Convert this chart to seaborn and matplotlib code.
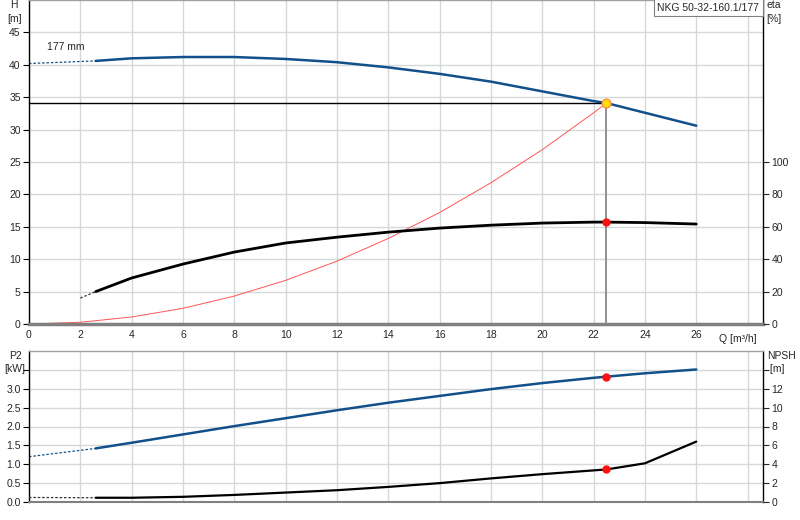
import matplotlib
matplotlib.use("Agg")
import matplotlib.pyplot as plt
import seaborn as sns
import pandas as pd
import numpy as np

# ---------------- data ----------------
q_ext = [0.0, 2.6]
h_ext = [40.2, 40.6]
q_h = [2.6, 4, 6, 8, 10, 12, 14, 16, 18, 20, 22, 22.5, 24, 26]
h_vals = [40.6, 41.0, 41.2, 41.2, 40.9, 40.4, 39.6, 38.6, 37.4, 35.9, 34.4, 34.1, 32.6, 30.6]

q_eta_ext = [2.0, 2.6]
eta_ext = [16.0, 20.0]
q_eta = [2.6, 4, 6, 8, 10, 12, 14, 16, 18, 20, 22, 22.5, 24, 26]
eta_vals = [20.0, 28.4, 37.0, 44.4, 50.0, 53.6, 56.7, 59.2, 61.0, 62.3, 62.9, 62.9, 62.6, 61.7]

q_sys = [0, 2, 4, 6, 8, 10, 12, 14, 16, 18, 20, 22, 22.5]
h_sys = [0.0, 0.27, 1.08, 2.42, 4.31, 6.74, 9.7, 13.2, 17.2, 21.8, 26.9, 32.6, 34.1]

q_p2_ext = [0.0, 2.6]
p2_ext = [1.20, 1.42]
q_p2 = [2.6, 4, 6, 8, 10, 12, 14, 16, 18, 20, 22, 22.5, 24, 26]
p2_vals = [1.42, 1.57, 1.79, 2.01, 2.22, 2.43, 2.63, 2.81, 2.99, 3.15, 3.29, 3.32, 3.41, 3.51]

q_npsh_ext = [0.0, 2.6]
npsh_ext = [0.48, 0.45]
q_npsh = [2.6, 4, 6, 8, 10, 12, 14, 16, 18, 20, 22, 22.5, 24, 26]
npsh_vals = [0.45, 0.45, 0.55, 0.75, 1.0, 1.25, 1.6, 2.0, 2.5, 2.95, 3.35, 3.45, 4.1, 6.4]

duty_q = 22.5
duty_h = 34.1
duty_eta = 62.9
duty_p2 = 3.32
duty_npsh = 3.45

x_ticks = list(range(0, 29, 2))
x_labels = [str(t) if t <= 26 else "" for t in x_ticks]
h_ticks = [0, 5, 10, 15, 20, 25, 30, 35, 40, 45]
eta_ticks = [0, 20, 40, 60, 80, 100]
p2_ticks = [0.0, 0.5, 1.0, 1.5, 2.0, 2.5, 3.0, 3.5]
p2_labels = ["0.0", "0.5", "1.0", "1.5", "2.0", "2.5", "3.0", ""]
npsh_ticks = [0, 2, 4, 6, 8, 10, 12, 14]
npsh_labels = ["0", "2", "4", "6", "8", "10", "12", ""]

pump_label = "NKG 50-32-160.1/177"
impeller_label = "177 mm"

# ---------------- style ----------------
sns.set_style("white")
plt.rcParams['font.family'] = ['Liberation Sans', 'DejaVu Sans']
FS = 7.5
plt.rcParams['font.size'] = FS

BLUE = "#12508a"
GRID = "#d4d8d8"

fig = plt.figure(figsize=(8, 5.2), dpi=100)
ax1 = fig.add_axes([29/800, 1-324/520, 734/800, 324/520])
ax2 = fig.add_axes([29/800, 1-502/520, 734/800, 151/520])

xlim = (0, 28.6)

def style_axes(ax):
    ax.set_xlim(*xlim)
    ax.set_xticks(x_ticks)
    ax.grid(True, color=GRID, lw=1.0)
    ax.set_axisbelow(True)
    ax.spines["top"].set_color("#a0a0a0")
    ax.spines["top"].set_linewidth(1.0)
    ax.spines["left"].set_color("black")
    ax.spines["left"].set_linewidth(1.0)
    ax.spines["right"].set_color("black")
    ax.spines["right"].set_linewidth(1.0)
    ax.tick_params(axis="both", length=4, width=0.8, color="black", labelsize=FS, pad=2)

# ---------- top panel ----------
style_axes(ax1)
ax1.set_ylim(0, 50)
ax1.set_yticks(h_ticks)
ax1.set_yticklabels([str(t) for t in h_ticks])
ax1.set_xticklabels(x_labels)
ax1.spines["bottom"].set_color("#808080")
ax1.spines["bottom"].set_linewidth(2.5)
ax1.tick_params(axis="x", length=0, pad=4)
ax1r = ax1.twinx()
ax1r.set_ylim(0, 200)
ax1r.set_yticks(eta_ticks)
ax1r.set_yticklabels([str(t) for t in eta_ticks])
ax1r.tick_params(axis="y", length=4, width=0.8, labelsize=FS, pad=2)
for s in ax1r.spines.values():
    s.set_visible(False)

sns.lineplot(x=q_ext, y=h_ext, ax=ax1, color=BLUE, lw=0.9, linestyle=(0, (2, 1.5)))
sns.lineplot(x=q_h, y=h_vals, ax=ax1, color=BLUE, lw=1.8)
sns.lineplot(x=q_sys, y=h_sys, ax=ax1, color="#ff5555", lw=0.7)
sns.lineplot(x=q_eta_ext, y=eta_ext, ax=ax1r, color="#333333", lw=0.9, linestyle=(0, (2, 1.5)))
sns.lineplot(x=q_eta, y=eta_vals, ax=ax1r, color="black", lw=2.0)
ax1.plot([0, duty_q], [duty_h, duty_h], color="black", lw=1.0, zorder=3)
ax1.plot([duty_q, duty_q], [0, duty_h], color="#909090", lw=1.4, zorder=3)
ax1.scatter([duty_q], [duty_h], s=40, color="#ffe000", edgecolor="#ff9040", linewidth=1.0, zorder=6)
ax1r.scatter([duty_q], [duty_eta], s=25, color="#ff1010", zorder=6)

ax1.text(0.7, 42.0, impeller_label, fontsize=FS, ha="left", va="bottom")
ax1.text(-0.02, 1.0, "H\n[m]", transform=ax1.transAxes, fontsize=FS, ha="center", va="top",
         linespacing=1.5)
ax1.text(1.005, 1.0, "eta\n[%]", transform=ax1.transAxes, fontsize=FS, ha="left", va="top",
         linespacing=1.5)
ax1.text(0.995, 0.992, pump_label, transform=ax1.transAxes, fontsize=FS, ha="right", va="top",
         bbox=dict(boxstyle="square,pad=0.35", facecolor="white", edgecolor="#808080", lw=0.8),
         zorder=10)
ax1.text(26.9, -1.6, "Q [m³/h]", fontsize=FS, ha="left", va="top")
ax1.set_xlabel("")
ax1.set_ylabel("")
ax1r.set_ylabel("")

# ---------- bottom panel ----------
style_axes(ax2)
ax2.set_ylim(0, 4.0)
ax2.set_yticks(p2_ticks)
ax2.set_yticklabels(p2_labels)
ax2.set_xticklabels([])
ax2.tick_params(axis="x", length=0)
ax2.spines["bottom"].set_color("#808080")
ax2.spines["bottom"].set_linewidth(1.5)
ax2r = ax2.twinx()
ax2r.set_ylim(0, 16)
ax2r.set_yticks(npsh_ticks)
ax2r.set_yticklabels(npsh_labels)
ax2r.tick_params(axis="y", length=4, width=0.8, labelsize=FS, pad=2)
for s in ax2r.spines.values():
    s.set_visible(False)

sns.lineplot(x=q_p2_ext, y=p2_ext, ax=ax2, color=BLUE, lw=0.9, linestyle=(0, (2, 1.5)))
sns.lineplot(x=q_p2, y=p2_vals, ax=ax2, color=BLUE, lw=1.8)
sns.lineplot(x=q_npsh_ext, y=npsh_ext, ax=ax2r, color="#333333", lw=0.9, linestyle=(0, (2, 1.5)))
sns.lineplot(x=q_npsh, y=npsh_vals, ax=ax2r, color="black", lw=1.6)
ax2.scatter([duty_q], [duty_p2], s=25, color="#ff1010", zorder=6)
ax2r.scatter([duty_q], [duty_npsh], s=25, color="#ff1010", zorder=6)

ax2.text(-0.019, 1.0, "P2\n[kW]", transform=ax2.transAxes, fontsize=FS, ha="center", va="top",
         linespacing=1.4)
ax2.text(1.005, 1.0, "NPSH\n [m]", transform=ax2.transAxes, fontsize=FS, ha="left", va="top",
         linespacing=1.4)
ax2.set_xlabel(""); ax2.set_ylabel(""); ax2r.set_ylabel("")

fig.savefig("out.png", dpi=100)
